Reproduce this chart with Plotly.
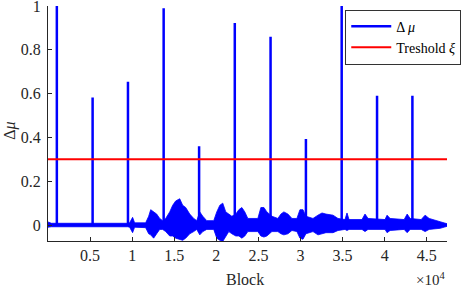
import plotly.graph_objects as go

# ---- data ----
spike_block = [1050, 5300, 9500, 13740, 17950, 22190, 26440, 30640, 34890, 39090, 43290]
spike_height = [1.0, 0.582, 0.655, 0.99, 0.36, 0.923, 0.86, 0.393, 1.0, 0.59, 0.59]

noise_block = [0, 400, 9460, 9700, 10050, 10290, 11600, 11960, 12200, 12550, 12910, 13270,
               13620, 13980, 14460, 14810, 15170, 15650, 16000, 16360, 16840, 17310, 17670,
               18030, 18390, 18860, 19690, 20050, 20410, 20760, 21120, 21480, 21840, 22310,
               22670, 23030, 23380, 23740, 24930, 25290, 25650, 26000, 26600, 27310, 27670,
               28020, 28500, 28980, 29570, 29930, 30290, 30640, 31480, 32070, 32550, 33020,
               33860, 34450, 35280, 35520, 35760, 37300, 37660, 38020, 40040, 40280, 40640,
               42310, 42670, 43020, 44330, 44800, 45280, 46590, 47400]
noise_hi = [0.014, 0.008, 0.008, 0.01, 0.035, 0.01, 0.01, 0.04, 0.07, 0.06, 0.05, 0.03,
            0.02, 0.03, 0.06, 0.09, 0.11, 0.12, 0.09, 0.08, 0.05, 0.03, 0.02,
            0.06, 0.04, 0.02, 0.02, 0.06, 0.09, 0.10, 0.06, 0.05, 0.04, 0.05,
            0.07, 0.08, 0.06, 0.03, 0.03, 0.08, 0.08, 0.06, 0.04, 0.03, 0.05,
            0.06, 0.05, 0.03, 0.03, 0.07, 0.07, 0.04, 0.03, 0.045, 0.055, 0.05,
            0.045, 0.03, 0.025, 0.055, 0.025, 0.025, 0.05, 0.03, 0.025, 0.045, 0.03,
            0.025, 0.05, 0.03, 0.025, 0.045, 0.03, 0.015, 0.006]
noise_lo = [-0.01, -0.008, -0.008, -0.01, -0.035, -0.01, -0.012, -0.04, -0.045, -0.06, -0.04, -0.02,
            -0.02, -0.03, -0.05, -0.05, -0.06, -0.065, -0.07, -0.06, -0.04, -0.03, -0.02,
            -0.045, -0.03, -0.02, -0.02, -0.06, -0.07, -0.075, -0.05, -0.03, -0.04, -0.05,
            -0.05, -0.06, -0.05, -0.03, -0.03, -0.05, -0.055, -0.05, -0.03, -0.03, -0.04,
            -0.045, -0.04, -0.025, -0.03, -0.06, -0.065, -0.04, -0.03, -0.045, -0.04, -0.035,
            -0.035, -0.025, -0.02, -0.025, -0.02, -0.02, -0.03, -0.02, -0.02, -0.035, -0.025,
            -0.02, -0.035, -0.02, -0.02, -0.03, -0.02, -0.015, -0.006]

threshold = 0.3
x_limits = [0, 47400]
y_limits = [-0.073, 1.0005]
x_tick_vals = [5000, 10000, 15000, 20000, 25000, 30000, 35000, 40000, 45000]
x_tick_text = ["0.5", "1", "1.5", "2", "2.5", "3", "3.5", "4", "4.5"]
y_tick_vals = [0, 0.2, 0.4, 0.6, 0.8, 1]
y_tick_text = ["0", "0.2", "0.4", "0.6", "0.8", "1"]

BLUE = "#0000ff"
RED = "#ff0000"
AX = "#262626"
FONT = "Times New Roman, Liberation Serif, DejaVu Serif, serif"

# spike polyline built from the spike arrays
sx, sy = [x_limits[0]], [0.0]
for b, h in zip(spike_block, spike_height):
    sx += [b, b, b]
    sy += [0.0, h, 0.0]
sx.append(x_limits[1])
sy.append(0.0)

fig = go.Figure()
fig.add_trace(go.Scatter(x=noise_block, y=noise_hi, mode="lines",
                         line=dict(color=BLUE, width=0.8), showlegend=False, hoverinfo="skip"))
fig.add_trace(go.Scatter(x=noise_block, y=noise_lo, mode="lines", fill="tonexty",
                         fillcolor=BLUE, line=dict(color=BLUE, width=0.8),
                         showlegend=False, hoverinfo="skip"))
fig.add_trace(go.Scatter(x=sx, y=sy, mode="lines", name="Δ <i>μ</i>",
                         line=dict(color=BLUE, width=2.5)))
fig.add_trace(go.Scatter(x=x_limits, y=[threshold, threshold], mode="lines",
                         name="Treshold <i>ξ</i>", line=dict(color=RED, width=2)))

fig.update_layout(
    width=463, height=288,
    margin=dict(l=48, r=16, t=6, b=47, autoexpand=False),
    paper_bgcolor="white", plot_bgcolor="white",
    font=dict(family=FONT, size=16, color=AX),
    showlegend=True,
    legend=dict(x=0.745, y=0.985, xanchor="left", yanchor="top",
                bgcolor="white", bordercolor="#333333", borderwidth=1,
                font=dict(family=FONT, size=14, color="#000000"),
                traceorder="normal", tracegroupgap=0, itemwidth=40),
    xaxis=dict(range=x_limits, tickvals=x_tick_vals, ticktext=x_tick_text,
               ticks="inside", ticklen=4, tickcolor=AX, showline=True, linecolor=AX,
               linewidth=1, showgrid=False, zeroline=False, mirror=False, automargin=False,
               ticklabeloverflow="allow",
               tickfont=dict(family=FONT, size=16, color=AX)),
    yaxis=dict(range=y_limits, tickvals=y_tick_vals, ticktext=y_tick_text,
               ticks="inside", ticklen=4, tickcolor=AX, showline=True, linecolor=AX,
               linewidth=1, showgrid=False, zeroline=False, mirror=False, automargin=False,
               ticklabelstandoff=3, ticklabeloverflow="allow",
               tickfont=dict(family=FONT, size=16, color=AX)),
    annotations=[
        dict(text="×10<sup>4</sup>", xref="paper", yref="paper", x=1.0, y=-0.115,
             xanchor="right", yanchor="top", showarrow=False,
             font=dict(family=FONT, size=15, color=AX)),
        dict(text="Block", xref="paper", yref="paper", x=0.494, y=-0.12,
             xanchor="center", yanchor="top", showarrow=False,
             font=dict(family=FONT, size=16, color=AX)),
        dict(text="Δ<i>μ</i>", xref="paper", yref="paper", x=-0.097, y=0.47,
             xanchor="center", yanchor="middle", showarrow=False, textangle=-90,
             font=dict(family=FONT, size=16, color=AX)),
    ],
)

fig.write_html("out.html", config={"displayModeBar": False},
               post_script="document.body.style.margin='0';document.body.style.padding='0';")
